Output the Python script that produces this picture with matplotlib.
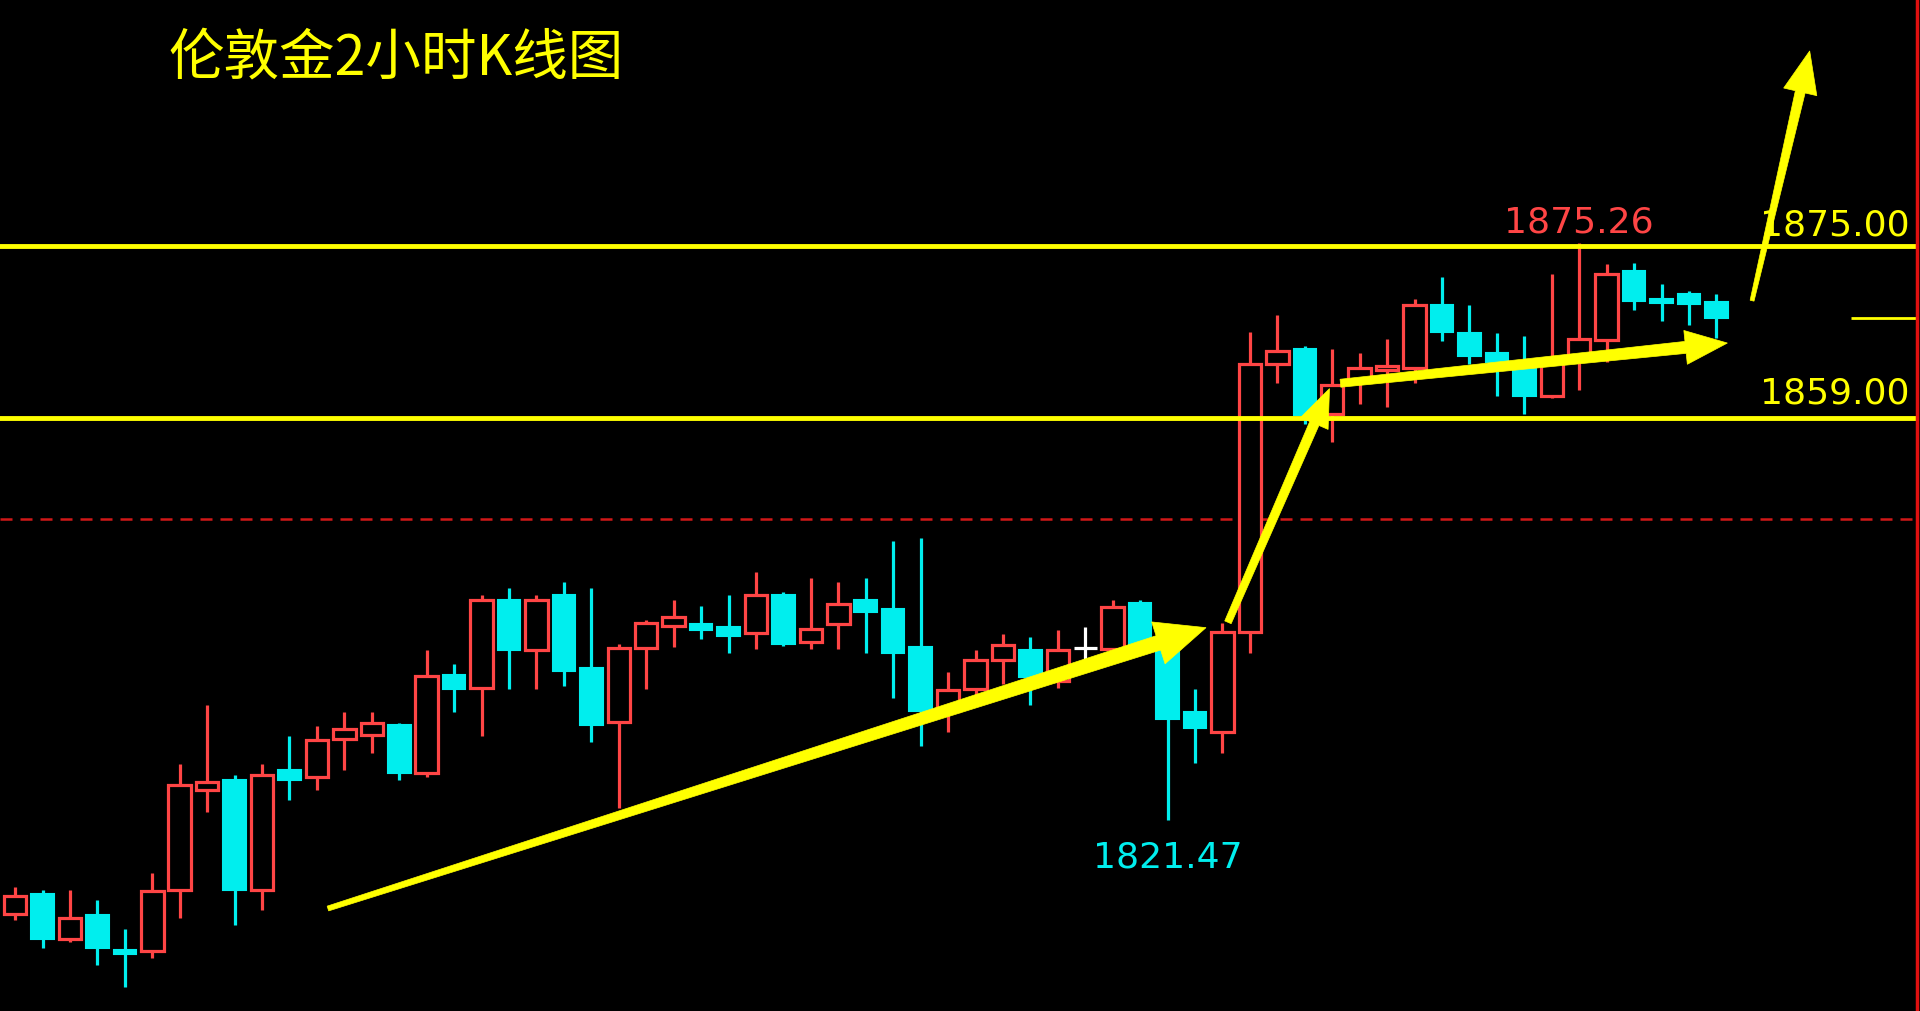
import numpy as np
import matplotlib
matplotlib.use("Agg")
import matplotlib.pyplot as plt
from matplotlib.patches import Rectangle, Polygon
from matplotlib.transforms import IdentityTransform

plt.rcParams['font.family'] = ['Noto Sans CJK SC', 'DejaVu Sans']

# London gold, 2h candles
opens = [1812.7, 1814.6, 1810.4, 1812.6, 1809.3, 1809.2, 1814.9, 1824.3, 1825.2, 1814.9,
         1826.1, 1825.5, 1829.0, 1829.4, 1830.3, 1825.8, 1835.0, 1833.8, 1842.0, 1837.3,
         1842.4, 1835.6, 1830.6, 1837.5, 1839.6, 1839.7, 1839.5, 1838.9, 1842.4, 1838.1,
         1839.7, 1842.0, 1841.1, 1837.6, 1831.6, 1833.7, 1836.4, 1837.3, 1834.4, 1837.5,
         1837.4, 1841.7, 1837.4, 1831.5, 1829.7, 1839.0, 1864.0, 1865.4, 1859.3, 1862.3,
         1863.4, 1863.6, 1869.5, 1866.9, 1865.0, 1863.8, 1861.0, 1864.7, 1866.2, 1872.7,
         1870.1, 1870.5, 1869.8]
highs = [1815.2, 1814.9, 1814.9, 1814.0, 1811.3, 1816.5, 1826.7, 1832.2, 1825.7, 1826.7,
         1829.3, 1830.2, 1831.5, 1831.5, 1830.5, 1837.3, 1836.0, 1842.4, 1843.1, 1842.4,
         1843.7, 1843.1, 1837.9, 1840.1, 1842.0, 1841.4, 1842.4, 1844.6, 1842.7, 1844.0,
         1843.7, 1844.0, 1847.5, 1847.8, 1835.3, 1837.3, 1838.8, 1838.5, 1839.2, 1839.5,
         1842.0, 1842.0, 1837.6, 1833.7, 1839.8, 1867.0, 1868.6, 1865.7, 1865.4, 1865.0,
         1866.3, 1870.1, 1872.1, 1869.5, 1866.9, 1866.6, 1872.4, 1875.26, 1873.3, 1873.4,
         1871.5, 1870.8, 1870.5]
lows = [1812.1, 1809.5, 1810.1, 1807.9, 1805.9, 1808.6, 1812.3, 1822.2, 1811.7, 1813.1,
        1823.3, 1824.3, 1826.1, 1827.7, 1825.2, 1825.5, 1831.5, 1829.3, 1833.7, 1833.7,
        1834.0, 1828.7, 1822.6, 1833.7, 1837.6, 1838.3, 1837.0, 1837.4, 1837.7, 1837.4,
        1837.4, 1837.0, 1832.8, 1828.4, 1829.7, 1832.9, 1834.1, 1832.2, 1833.8, 1836.3,
        1837.2, 1837.3, 1821.47, 1826.8, 1827.7, 1837.0, 1862.2, 1858.4, 1856.7, 1860.3,
        1860.0, 1862.2, 1866.1, 1864.0, 1861.0, 1859.3, 1860.8, 1861.6, 1864.2, 1869.0,
        1868.0, 1867.6, 1866.4]
closes = [1814.4, 1810.4, 1812.3, 1809.5, 1809.0, 1814.8, 1824.7, 1825.0, 1814.9, 1825.7,
          1825.2, 1828.9, 1829.9, 1830.5, 1825.8, 1834.9, 1833.7, 1842.0, 1837.3, 1842.0,
          1835.4, 1830.3, 1837.5, 1839.8, 1840.4, 1839.2, 1838.6, 1842.4, 1837.9, 1839.3,
          1841.6, 1840.9, 1837.0, 1831.6, 1833.6, 1836.4, 1837.8, 1834.8, 1837.3, 1837.5,
          1841.3, 1837.6, 1830.9, 1830.0, 1839.0, 1864.0, 1865.2, 1859.2, 1862.0, 1863.6,
          1863.8, 1869.5, 1867.0, 1864.7, 1864.2, 1861.0, 1864.1, 1866.3, 1872.4, 1869.9,
          1869.7, 1869.6, 1868.3]

resistance = 1875.00
support = 1859.00
dashed_level = 1849.5
high_label = "1875.26"
low_label = "1821.47"
title = "伦敦金2小时K线图"

# hand-drawn arrows: (start index, start price), (end index, end price)
arrows = [((11.4, 1813.2), (43.4, 1839.4)),
          ((44.2, 1839.9), (47.9, 1861.7)),
          ((48.3, 1862.2), (62.4, 1865.95)),
          ((63.3, 1869.9), (65.4, 1893.2))]

RED = '#FF4545'
CYAN = '#00EEEE'
YEL = '#FFFF00'

fig = plt.figure(figsize=(19.2, 10.11), dpi=100, facecolor='black')
ax = fig.add_axes([0, 0, 1, 1])
ax.set_facecolor('black')
ax.set_xlim(-0.55, 69.42)
ax.set_ylim(1803.64, 1897.95)
ax.axis('off')

w = 0.82
for i, (o, h, l, c) in enumerate(zip(opens, highs, lows, closes)):
    if c > o:
        ax.vlines(i, l, h, color=RED, lw=2.3, zorder=2)
        ax.add_patch(Rectangle((i - w / 2, o), w, c - o, facecolor='black',
                               edgecolor=RED, lw=2.3, zorder=3))
    elif c < o:
        ax.vlines(i, l, h, color=CYAN, lw=2.3, zorder=2)
        ax.add_patch(Rectangle((i - w / 2, c), w, o - c, facecolor=CYAN,
                               edgecolor=CYAN, lw=1.5, zorder=3))
    else:
        ax.vlines(i, l, h, color='white', lw=2.3, zorder=2)
        ax.hlines(o, i - w / 2, i + w / 2, color='white', lw=2.3, zorder=3)

# levels
ax.axhline(resistance, xmax=0.997, color=YEL, lw=3.5, zorder=4)
ax.axhline(support, xmax=0.997, color=YEL, lw=3.5, zorder=4)
ax.axhline(dashed_level, xmax=0.997, color='#D01818', lw=1.8, ls=(0, (4.8, 3.2)), zorder=1)
ax.hlines(closes[-1], 66.9, 69.3, color=YEL, lw=2, zorder=4)
ax.axvline(69.3, color='#E01010', lw=2.5, zorder=5)

ax.text(69.05, resistance + 1.0, f"{resistance:.2f}", color=YEL, fontsize=26,
        family='DejaVu Sans', ha='right', va='baseline', zorder=6)
ax.text(69.05, support + 1.35, f"{support:.2f}", color=YEL, fontsize=26,
        family='DejaVu Sans', ha='right', va='baseline', zorder=6)
ax.text(57, 1876.3, high_label, color=RED, fontsize=26, family='DejaVu Sans',
        ha='center', va='baseline', zorder=6)
ax.text(42, 1817.0, low_label, color=CYAN, fontsize=26, family='DejaVu Sans',
        ha='center', va='baseline', zorder=6)

fig.text(168 / 1920, 1 - 59 / 1011, title, color=YEL, fontsize=40, ha='left', va='center')


def hand_arrow(p0, p1, w0, w1, head_w, head_len):
    a = ax.transData.transform(p0)
    b = ax.transData.transform(p1)
    u = (b - a) / np.hypot(*(b - a))
    n = np.array([-u[1], u[0]])
    base = b - u * head_len
    pts = [a + n * w0 / 2, base + n * w1 / 2, base + n * head_w / 2, b,
           base - n * head_w / 2, base - n * w1 / 2, a - n * w0 / 2]
    ax.add_patch(Polygon(pts, closed=True, facecolor=YEL, edgecolor=YEL, lw=0.5,
                         transform=IdentityTransform(), zorder=7))


sizes = [(5, 15, 44, 50), (7, 10, 30, 38), (8, 12, 34, 42), (4, 10, 34, 42)]
for (p0, p1), s in zip(arrows, sizes):
    hand_arrow(p0, p1, *s)

fig.savefig("out.png", dpi=100, facecolor='black')
